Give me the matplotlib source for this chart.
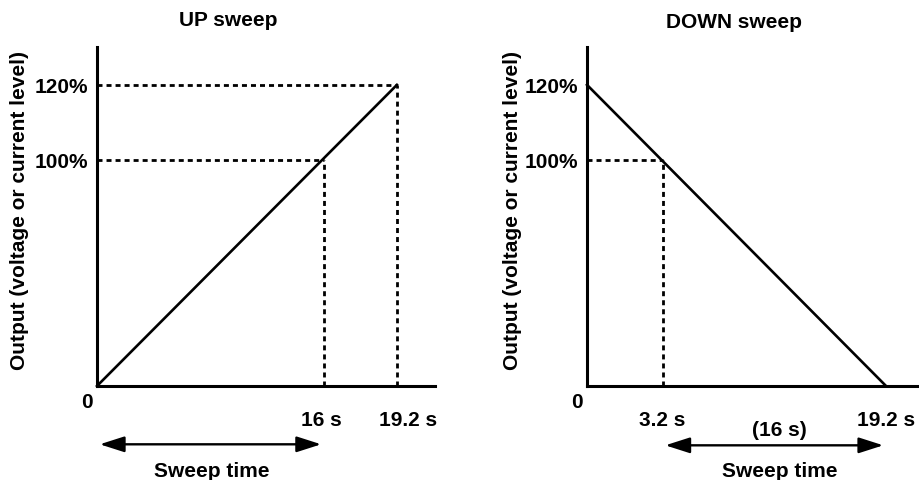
import matplotlib
matplotlib.use("Agg")
import matplotlib.pyplot as plt
from matplotlib.patches import ArrowStyle
from matplotlib.transforms import ScaledTranslation
import numpy as np

# ---- data ----
up_time = [0, 19.2]
up_level = [0, 120]
down_time = [0, 19.2]
down_level = [120, 0]

up_mark_time = [16, 19.2]
up_mark_level = [100, 120]
down_mark_time = [3.2]
down_mark_level = [100]

up_xticks = [16, 19.2]
up_xticklabels = ["16 s", "19.2 s"]
down_xticks = [3.2, 19.2]
down_xticklabels = ["3.2 s", "19.2 s"]
yticks = [100, 120]
yticklabels = ["100%", "120%"]

up_sweep_span = [0, 16]
down_sweep_span = [3.2, 19.2]
down_span_label = "(16 s)"

titles = ["UP sweep", "DOWN sweep"]
ylabel = "Output (voltage or current level)"
sweep_label = "Sweep time"

# ---- style ----
plt.rcParams["font.family"] = ["Liberation Sans", "DejaVu Sans"]
plt.rcParams["font.weight"] = "bold"
FS = 15
DASH = (0, (1.8, 1.45))

fig = plt.figure(figsize=(9.19, 4.81), dpi=100)

def power_scale(ax, axis, p):
    fwd = lambda v: np.sign(v) * np.abs(v) ** p
    inv = lambda v: np.sign(v) * np.abs(v) ** (1.0 / p)
    if axis == "x":
        ax.set_xscale("function", functions=(fwd, inv))
    else:
        ax.set_yscale("function", functions=(fwd, inv))

def setup(ax, xp, xmax, yp, ymax, xt, xtl):
    # schematic (not-to-scale) axes as in the reference diagram
    power_scale(ax, "x", xp)
    power_scale(ax, "y", yp)
    ax.set_xlim(0, xmax)
    ax.set_ylim(0, ymax)
    for s in ["top", "right"]:
        ax.spines[s].set_visible(False)
    for s in ["left", "bottom"]:
        ax.spines[s].set_linewidth(2.2)
    ax.set_xticks(xt)
    ax.set_xticklabels(xtl, fontsize=FS, fontweight="bold")
    ax.set_yticks(yticks)
    ax.set_yticklabels(yticklabels, fontsize=FS, fontweight="bold")
    ax.minorticks_off()
    ax.tick_params(axis="x", length=0, pad=17)
    ax.tick_params(axis="y", length=0, pad=6.5)
    ax.annotate("0", xy=(0, 0), xytext=(-7.2, -11.5), textcoords="offset points",
                ha="center", va="center", fontsize=FS, fontweight="bold",
                annotation_clip=False)

def dashed(ax, ts, lvls):
    for t, l in zip(ts, lvls):
        ax.plot([0, t], [l, l], color="black", lw=2.0, linestyle=DASH, clip_on=False)
        ax.plot([t, t], [0, l], color="black", lw=2.0, linestyle=DASH, clip_on=False)

arrow_style = ArrowStyle("<|-|>", head_length=1.0, head_width=0.32)

def sweep_arrow(ax, span, yfrac):
    ax.annotate("", xy=(span[1], yfrac), xytext=(span[0], yfrac),
                xycoords=("data", "axes fraction"), textcoords=("data", "axes fraction"),
                arrowprops=dict(arrowstyle=arrow_style, mutation_scale=15, lw=1.7,
                                color="black", shrinkA=2, shrinkB=2),
                annotation_clip=False)

# ---- left: UP sweep ----
axL = fig.add_axes([97 / 919, 94 / 481, 338 / 919, 339 / 481])
setup(axL, 1.53, 20.76, 1.57, 129.4, up_xticks, up_xticklabels)
dashed(axL, up_mark_time, up_mark_level)
axL.plot(up_time, up_level, color="black", lw=1.9, clip_on=False)
sweep_arrow(axL, up_sweep_span, -0.172)
axL.text(0.340, -0.248, sweep_label, transform=axL.transAxes, ha="center", va="center",
         fontsize=FS, fontweight="bold")
# shift labels slightly as in the reference
lbls = axL.get_xticklabels()
lbls[0].set_transform(lbls[0].get_transform() + ScaledTranslation(-0.03, 0, fig.dpi_scale_trans))
lbls[1].set_transform(lbls[1].get_transform() + ScaledTranslation(0.11, 0, fig.dpi_scale_trans))

# ---- right: DOWN sweep ----
axR = fig.add_axes([587 / 919, 94 / 481, 332 / 919, 339 / 481])
setup(axR, 0.768, 22.0, 1.57, 129.4, down_xticks, down_xticklabels)
dashed(axR, down_mark_time, down_mark_level)
axR.plot(down_time, down_level, color="black", lw=1.9, clip_on=False)
sweep_arrow(axR, down_sweep_span, -0.175)
axR.text(0.578, -0.127, down_span_label, transform=axR.transAxes, ha="center", va="center",
         fontsize=FS, fontweight="bold")
axR.text(0.581, -0.248, sweep_label, transform=axR.transAxes, ha="center", va="center",
         fontsize=FS, fontweight="bold")

# ---- titles and y labels ----
fig.text(228 / 919, 1 - 21 / 481, titles[0], ha="center", va="center", fontsize=FS,
         fontweight="bold")
fig.text(734 / 919, 1 - 22 / 481, titles[1], ha="center", va="center", fontsize=FS,
         fontweight="bold")
fig.text(20 / 919, 1 - 210 / 481, ylabel, rotation=90, ha="center", va="center",
         fontsize=FS, fontweight="bold")
fig.text(512 / 919, 1 - 210 / 481, ylabel, rotation=90, ha="center", va="center",
         fontsize=FS, fontweight="bold")

fig.savefig("out.png", dpi=100)
